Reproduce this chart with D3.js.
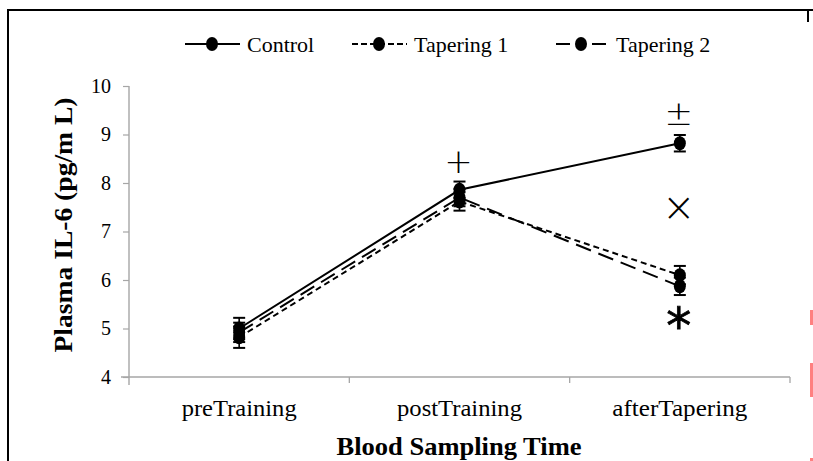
<!DOCTYPE html>
<html>
<head>
<meta charset="utf-8">
<script src="https://cdn.jsdelivr.net/npm/d3@7"></script>
<style>
  html, body { margin: 0; padding: 0; background: #fff; }
  svg { display: block; }
</style>
</head>
<body>
<svg id="chart" width="813" height="461"></svg>
<script>
// Plasma IL-6 across blood sampling times, three groups (mean ± error)
const categories = ["preTraining", "postTraining", "afterTapering"];
const controlValues   = [5.00, 7.86, 8.82];
const controlErrors   = [0.22, 0.17, 0.17];
const tapering1Values = [4.82, 7.62, 6.10];
const tapering1Errors = [0.22, 0.19, 0.19];
const tapering2Values = [4.92, 7.70, 5.87];
const tapering2Errors = [0.20, 0.18, 0.18];
const seriesNames = ["Control", "Tapering 1", "Tapering 2"];
const yTicks = [4, 5, 6, 7, 8, 9, 10];
// significance marks: category, value position, symbol
const markCategories = ["postTraining", "afterTapering", "afterTapering", "afterTapering"];
const markValues = [8.45, 9.45, 7.48, 5.25];
const markSymbols = ["+", "±", "×", "*"];

const series = [
  { name: seriesNames[0], values: controlValues, errors: controlErrors, dash: null },
  { name: seriesNames[1], values: tapering1Values, errors: tapering1Errors, dash: "6,4" },
  { name: seriesNames[2], values: tapering2Values, errors: tapering2Errors, dash: "16,8" }
];

const svg = d3.select("#chart");
const serif = "'Liberation Serif', 'Times New Roman', serif";
const margin = { left: 129, right: 23, top: 86, bottom: 84 };
const W = 813, H = 461;

const x = d3.scaleBand().domain(categories).range([margin.left, W - margin.right]);
const y = d3.scaleLinear().domain([4, 10]).range([H - margin.bottom, margin.top]);
const cx = c => x(c) + x.bandwidth() / 2;

// frame edges
svg.append("line").attr("x1", 8).attr("x2", 8).attr("y1", 10).attr("y2", H)
  .attr("stroke", "#000").attr("stroke-width", 2);
svg.append("line").attr("x1", 7).attr("x2", W).attr("y1", 10).attr("y2", 10)
  .attr("stroke", "#000").attr("stroke-width", 2);
svg.append("line").attr("x1", 808).attr("x2", 808).attr("y1", 10).attr("y2", 22)
  .attr("stroke", "#000").attr("stroke-width", 2);
// red edge marks
[[310, 15], [363, 34], [458, 3]].forEach(([yy, hh]) => {
  svg.append("rect").attr("x", 810).attr("y", yy).attr("width", 3).attr("height", hh)
    .attr("fill", "#ff8080");
});

// y axis
const yAxis = svg.append("g").attr("transform", `translate(${margin.left},0)`)
  .call(d3.axisLeft(y).tickValues(yTicks).tickSize(6).tickPadding(12).tickFormat(d3.format("d")));
yAxis.select(".domain").attr("stroke", "#c0c0c0").attr("stroke-width", 2)
  .attr("d", `M0,${y(10)}V${y(4) + 8}`);
yAxis.selectAll(".tick line").attr("stroke", "#a6a6a6").attr("stroke-width", 1.2);
yAxis.selectAll(".tick text").attr("font-family", serif).attr("font-size", 20).attr("fill", "#000");

// x axis
const xAxis = svg.append("g").attr("transform", `translate(0,${y(4)})`)
  .call(d3.axisBottom(x).tickSize(0).tickPadding(22));
xAxis.select(".domain").attr("stroke", "#a6a6a6").attr("stroke-width", 1.3)
  .attr("d", `M${margin.left - 8},0H${W - margin.right}`);
xAxis.selectAll(".tick text").attr("font-family", serif).attr("font-size", 24).attr("fill", "#000")
  .attr("textLength", 115).attr("lengthAdjust", "spacingAndGlyphs");
xAxis.selectAll(".tick text").filter(d => d === "postTraining").attr("textLength", 125);
xAxis.selectAll(".tick text").filter(d => d === "afterTapering").attr("textLength", 135);
// boundary ticks between categories
const bounds = categories.map(c => x(c) + x.bandwidth());
svg.append("g").selectAll("line").data(bounds).join("line")
  .attr("x1", d => d).attr("x2", d => d).attr("y1", y(4)).attr("y2", y(4) + 6)
  .attr("stroke", "#a6a6a6").attr("stroke-width", 1.3);

// axis titles
svg.append("text").attr("x", 459).attr("y", 455).attr("text-anchor", "middle")
  .attr("font-family", serif).attr("font-weight", "bold").attr("font-size", 26)
  .attr("textLength", 245).attr("lengthAdjust", "spacingAndGlyphs")
  .text("Blood Sampling Time");
svg.append("text").attr("transform", `translate(72,225) rotate(-90)`).attr("text-anchor", "middle")
  .attr("font-family", serif).attr("font-weight", "bold").attr("font-size", 26)
  .attr("textLength", 255).attr("lengthAdjust", "spacingAndGlyphs")
  .text("Plasma IL-6 (pg/m L)");

// lines
const line = d3.line().x((d, i) => cx(categories[i])).y(d => y(d));
series.forEach(s => {
  svg.append("path").datum(s.values).attr("d", line)
    .attr("fill", "none").attr("stroke", "#000").attr("stroke-width", 2)
    .attr("stroke-dasharray", s.dash);
});

// error bars and markers
series.forEach(s => {
  const g = svg.append("g");
  s.values.forEach((v, i) => {
    const px = cx(categories[i]);
    const e = s.errors[i];
    g.append("line").attr("x1", px).attr("x2", px).attr("y1", y(v + e)).attr("y2", y(v - e))
      .attr("stroke", "#000").attr("stroke-width", 1.6);
    [v + e, v - e].forEach(w => {
      g.append("line").attr("x1", px - 6).attr("x2", px + 6).attr("y1", y(w)).attr("y2", y(w))
        .attr("stroke", "#000").attr("stroke-width", 2);
    });
    g.append("ellipse").attr("cx", px).attr("cy", y(v)).attr("rx", 6).attr("ry", 7).attr("fill", "#000");
  });
});

// significance marks
markSymbols.forEach((sym, i) => {
  const size = sym === "×" ? 40 : sym === "*" ? 50 : 34;
  const dy = sym === "*" ? 27 : sym === "×" ? 13 : 12;
  svg.append("text").attr("x", cx(markCategories[i]) - 1).attr("y", y(markValues[i]) + dy)
    .attr("text-anchor", "middle").attr("font-family", "'DejaVu Sans', sans-serif")
    .attr("font-weight", sym === "*" ? "normal" : "200")
    .attr("stroke", sym === "*" ? "#000" : "none").attr("stroke-width", 0.8)
    .attr("font-size", size).attr("fill", "#000").text(sym);
});

// legend
const legendX = [185, 352, 554];
const legend = svg.append("g");
series.forEach((s, i) => {
  const lx = legendX[i];
  const ly = 44;
  if (i === 2) {
    // long-dash key: one dash either side of the marker
    [[lx + 2, lx + 16], [lx + 38, lx + 52]].forEach(([a, b]) => {
      legend.append("line").attr("x1", a).attr("x2", b).attr("y1", ly).attr("y2", ly)
        .attr("stroke", "#000").attr("stroke-width", 2);
    });
  } else {
    legend.append("line").attr("x1", lx).attr("x2", lx + 55).attr("y1", ly).attr("y2", ly)
      .attr("stroke", "#000").attr("stroke-width", 2)
      .attr("stroke-dasharray", i === 1 ? "6,3" : null);
  }
  legend.append("ellipse").attr("cx", lx + 27).attr("cy", ly).attr("rx", 6).attr("ry", 7).attr("fill", "#000");
  legend.append("text").attr("x", lx + 62).attr("y", 52).attr("font-family", serif)
    .attr("font-size", 22).attr("fill", "#000").text(s.name);
});
</script>
</body>
</html>
